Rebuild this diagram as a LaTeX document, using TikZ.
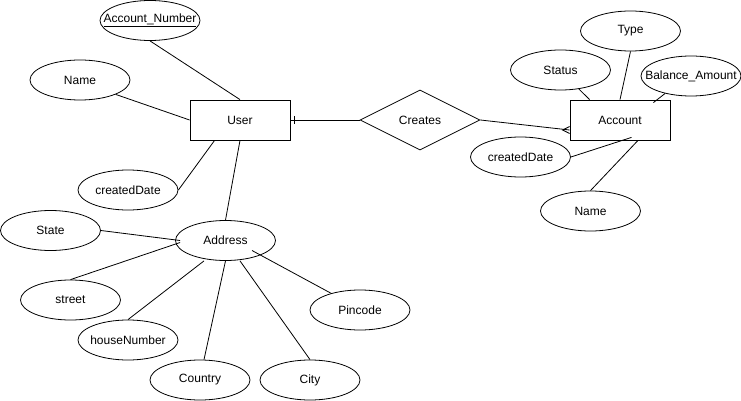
\documentclass[tikz,border=0pt]{standalone}
\usepackage{fontspec}
\setmainfont{Liberation Sans}
\usepackage{tikz}
\usetikzlibrary{positioning,%
  shapes.geometric,%
  calc
}

\begin{document}
\begin{tikzpicture}
                    [
                        x=1pt, y=-1pt,
                        line width=.8pt,
                        every node/.style={font=\fontsize{12}{14}\selectfont},
                        entity/.style={draw, rectangle, minimum width=100pt, minimum height=40pt, inner sep=0pt},
                        attribute/.style={draw, ellipse, minimum width=100pt, minimum height=40pt, inner xsep=-12pt, inner ysep=0pt},
                        relation/.style={draw, diamond, aspect=2, minimum width=120pt, minimum height=60pt, inner sep=0pt}
                    ]

                    % Rahmen
                    \useasboundingbox (0,0) rectangle (741,401);

                    % User
                    \node[entity] (user) at (240,120) {User};
                    \node[attribute] (accnum) at (150,20.5) {\underline{Account\_Number}};
                    \node[attribute] (username) at (80,80) {Name};
                    \node[attribute] (usercreated) at (128,190) {createdDate};

                    \draw (accnum.south) -- (user.north);
                    \draw (username.-22) -- (user.west);
                    \draw (usercreated.east) -- ([xshift=25pt]user.south west);

                    % Address
                    \node[attribute] (address) at (225.5,240.5) {Address};
                    \node[attribute] (state) at (50.5,230.5) {State};
                    \node[attribute] (street) at (70.5,300) {street};
                    \node[attribute] (housenum) at (128,340) {houseNumber};
                    \node[attribute] (country) at (200,380) {Country};
                    \node[attribute] (city) at (310,380) {City};
                    \node[attribute] (pincode) at (360,310) {Pincode};

                    \draw (user.south) -- (address.north);
                    \draw (state.east) -- ([xshift=5pt]address.west);
                    \draw (street.north) -- ([xshift=5pt,yshift=-2pt]address.west);
                    \draw (housenum.north) -- ([xshift=-21.5pt]address.south);
                    \draw ([xshift=4pt]country.north) -- (address.south);
                    \draw (city.north) -- ([xshift=14.5pt]address.south);
                    \draw (pincode.150) -- ([xshift=26.5pt,yshift=-10pt]address.center);

                    % Beziehung
                    \node[relation] (creates) at (420,120) {Creates};
                    \node[entity] (account) at (620,120) {Account};

                    \draw (user.east) -- (creates.west);
                    \draw ([xshift=4pt,yshift=4pt]user.east) -- ([xshift=4pt,yshift=-4pt]user.east);
                    \draw (creates.east) -- ([yshift=-10pt]account.west);
                    \coordinate (crow) at ([xshift=-7pt,yshift=-10pt]account.west);
                    \draw ([yshift=-6.5pt]account.west) -- (crow) -- ([yshift=-13.5pt]account.west);

                    % Account
                    \node[attribute] (type) at (630.5,31) {Type};
                    \node[attribute] (status) at (560.5,70) {Status};
                    \node[attribute] (balance) at (691,76) {Balance\_Amount};
                    \node[attribute] (acccreated) at (520.5,157) {createdDate};
                    \node[attribute] (accname) at (590.5,211) {Name};

                    \draw (type.south) -- (account.north);
                    \draw (status.-46) -- ([xshift=20pt]account.north west);
                    \draw (balance.214) -- ([xshift=-17pt,yshift=-3pt]account.north east);
                    \draw (acccreated.east) -- ([xshift=11.5pt,yshift=3pt]account.south);
                    \draw (accname.north) -- ([xshift=18pt]account.south);
                \end{tikzpicture}
\end{document}
